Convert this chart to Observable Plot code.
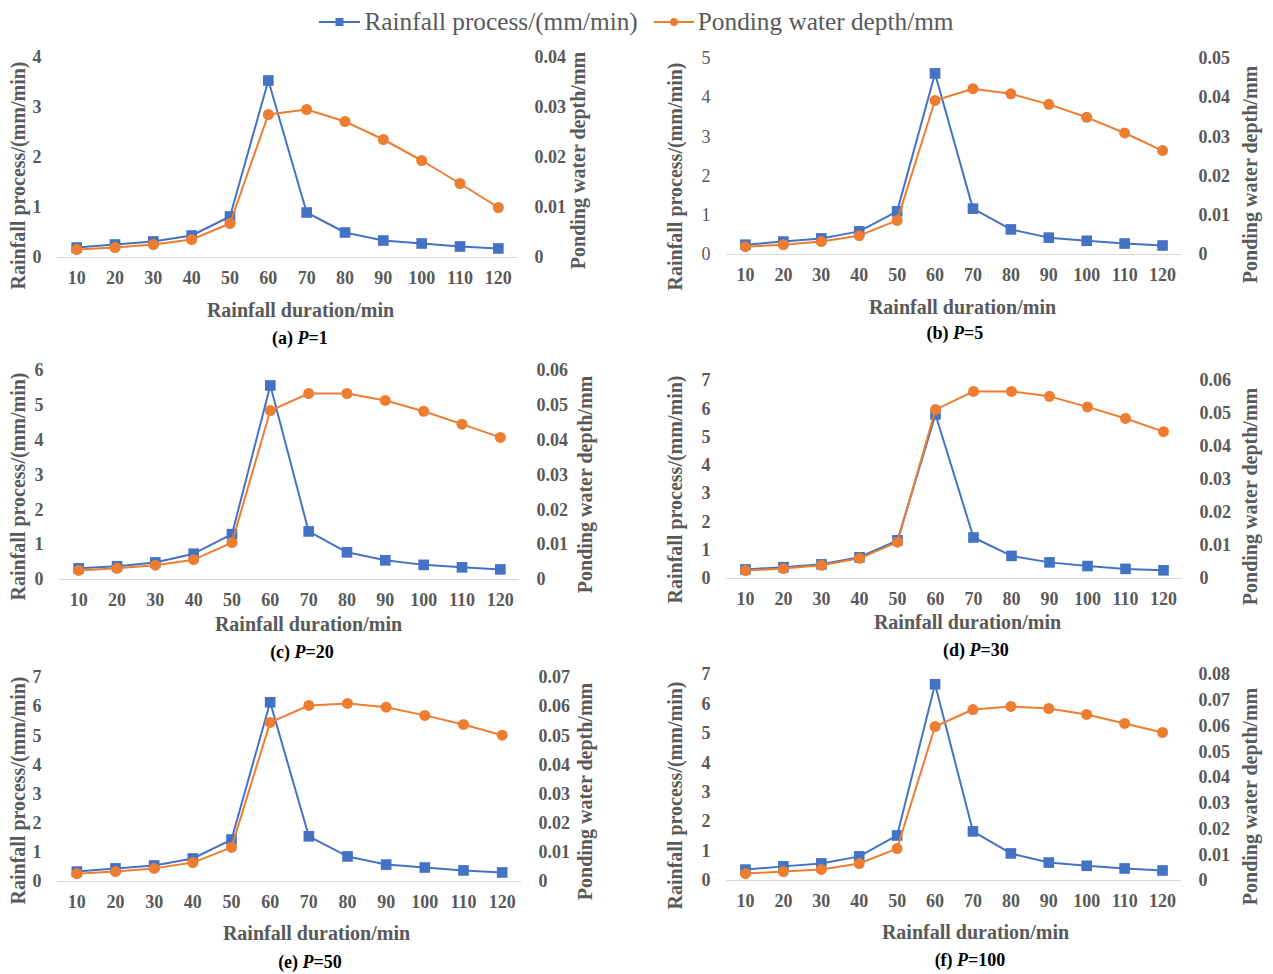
<!DOCTYPE html>
<html><head><meta charset="utf-8">
<script src="https://cdn.jsdelivr.net/npm/d3@7"></script>
<script src="https://cdn.jsdelivr.net/npm/@observablehq/plot@0.6"></script>
<style>
body{margin:0;background:#fff;}
#page{position:relative;width:1273px;height:974px;font-family:"Liberation Serif","Times New Roman",serif;color:#595959;overflow:hidden;background:#fff}
.cell{position:absolute}
.cell svg{position:absolute;left:0;top:0;overflow:visible}
.cap{position:absolute;transform:translate(-50%,-50%);font-weight:bold;font-size:18px;color:#000;white-space:nowrap;line-height:1}
#legend{position:absolute;top:9px;left:0;width:1273px;display:flex;justify-content:center;align-items:center;font-size:25.3px;line-height:1;white-space:nowrap}
#legend .item{display:flex;align-items:center}
#legend svg{margin-right:4px}
</style></head>
<body><div id="page"><div id="legend"></div></div>
<script>
const durations = [10, 20, 30, 40, 50, 60, 70, 80, 90, 100, 110, 120];
const panelLetters = ["a", "b", "c", "d", "e", "f"];
const returnPeriods = ["1", "5", "20", "30", "50", "100"];
const rainMax = [4, 5, 6, 7, 7, 7];
const pondMax = [0.04, 0.05, 0.06, 0.06, 0.07, 0.08];

const rainA = [0.20, 0.26, 0.32, 0.44, 0.82, 3.54, 0.90, 0.50, 0.34, 0.28, 0.22, 0.18];
const rainB = [0.25, 0.33, 0.41, 0.59, 1.10, 4.62, 1.17, 0.64, 0.43, 0.35, 0.28, 0.23];
const rainC = [0.32, 0.38, 0.49, 0.74, 1.30, 5.57, 1.38, 0.78, 0.55, 0.42, 0.35, 0.29];
const rainD = [0.32, 0.40, 0.50, 0.75, 1.35, 5.80, 1.45, 0.80, 0.57, 0.44, 0.34, 0.29];
const rainE = [0.34, 0.45, 0.55, 0.79, 1.44, 6.15, 1.55, 0.86, 0.58, 0.48, 0.38, 0.31];
const rainF = [0.37, 0.48, 0.58, 0.82, 1.53, 6.67, 1.67, 0.92, 0.61, 0.50, 0.41, 0.34];

const pondA = [0.0016, 0.0020, 0.0026, 0.0036, 0.0068, 0.0286, 0.0296, 0.0272, 0.0236, 0.0194, 0.0148, 0.0100];
const pondB = [0.0020, 0.0025, 0.0033, 0.0048, 0.0087, 0.0393, 0.0423, 0.0410, 0.0383, 0.0350, 0.0310, 0.0265];
const pondC = [0.0026, 0.0032, 0.0041, 0.0057, 0.0106, 0.0485, 0.0534, 0.0534, 0.0514, 0.0483, 0.0446, 0.0408];
const pondD = [0.0024, 0.0030, 0.0040, 0.0061, 0.0110, 0.0512, 0.0567, 0.0567, 0.0552, 0.0520, 0.0485, 0.0445];
const pondE = [0.0027, 0.0034, 0.0045, 0.0065, 0.0117, 0.0546, 0.0604, 0.0611, 0.0598, 0.0570, 0.0539, 0.0502];
const pondF = [0.0027, 0.0035, 0.0043, 0.0066, 0.0124, 0.0598, 0.0664, 0.0676, 0.0668, 0.0645, 0.0610, 0.0575];

const rainSeries = [rainA, rainB, rainC, rainD, rainE, rainF];
const pondSeries = [pondA, pondB, pondC, pondD, pondE, pondF];

const rainName = "Rainfall process/(mm/min)";
const pondName = "Ponding water depth/mm";
const xName = "Rainfall duration/min";

// layout (page pixels): cell box, frame edges, title centres
const layout = [
  {cell:[0,40,636,310],   fl:57,  fr:517,  top:57,  base:257, lt:[18,175],  rt:[578,160],  xt:[300,310], cap:[300,338], leftBold:true},
  {cell:[636,40,637,310], fl:726, fr:1181, top:58,  base:254, lt:[675,176], rt:[1250,174], xt:[962,307], cap:[955,333], leftBold:false},
  {cell:[0,350,636,314],  fl:59,  fr:519,  top:370, base:579, lt:[18,486],  rt:[585,484],  xt:[308,624], cap:[302,652], leftBold:true},
  {cell:[636,350,637,314],fl:726, fr:1182, top:380, base:578, lt:[675,489], rt:[1250,496], xt:[967,622], cap:[976,650], leftBold:true},
  {cell:[0,664,636,310],  fl:57,  fr:521,  top:677, base:881, lt:[18,790],  rt:[585,791],  xt:[316,933], cap:[310,962], leftBold:true},
  {cell:[636,664,637,310],fl:726, fr:1181, top:674, base:880, lt:[675,795], rt:[1250,796], xt:[975,932], cap:[970,960], leftBold:true}
];

const BLUE = "#4472C4", ORANGE = "#ED7D31", GREY = "#595959";
const FONT = "'Liberation Serif','Times New Roman',serif";
const page = document.getElementById("page");

// legend
const legend = document.getElementById("legend");
legend.innerHTML = `
<div class="item"><svg width="41" height="16"><line x1="0" y1="8" x2="41" y2="8" stroke="${BLUE}" stroke-width="2"/><rect x="16.5" y="4" width="8" height="8" fill="${BLUE}"/></svg><span>${rainName}</span></div>
<div class="item" style="margin-left:16px"><svg width="40" height="16"><line x1="0" y1="8" x2="40" y2="8" stroke="${ORANGE}" stroke-width="2"/><circle cx="20" cy="8" r="4" fill="${ORANGE}"/></svg><span>${pondName}</span></div>`;

layout.forEach((L, i) => {
  const [cx, cy, cw, ch] = L.cell;
  const mL = L.fl - cx, mR = cx + cw - L.fr, mT = L.top - cy, mB = cy + ch - L.base;
  const midY = (L.top + L.base) / 2, midX = (L.fl + L.fr) / 2;
  const rows = durations.map((t, j) => ({t, rain: rainSeries[i][j], pond: pondSeries[i][j]}));
  const common = {
    width: cw, height: ch, marginLeft: mL, marginRight: mR, marginTop: mT, marginBottom: mB,
    style: {background: "transparent", fontFamily: FONT, fontSize: "18px", color: GREY, overflow: "visible"}
  };
  const div = document.createElement("div");
  div.className = "cell";
  div.style.left = cx + "px"; div.style.top = cy + "px";
  div.style.width = cw + "px"; div.style.height = ch + "px";

  const rainTicks = d3.range(0, rainMax[i] + 1);
  const pondTicks = d3.range(0, Math.round(pondMax[i] * 100) + 1).map(k => k / 100);
  const titleStyle = {text: d => d, textAnchor: "middle", lineAnchor: "middle", fontWeight: "bold", fontSize: 20, fill: GREY};

  const p1 = Plot.plot({
    ...common,
    x: {domain: [5, 125], axis: null},
    y: {domain: [0, rainMax[i]], axis: null},
    marks: [
      Plot.ruleY([0], {stroke: "#d9d9d9", strokeWidth: 1}),
      Plot.axisX(durations, {tickSize: 0, tickPadding: 14, fontWeight: "bold", fontSize: 18, fill: GREY, label: null}),
      Plot.axisY(rainTicks, {anchor: "left", tickSize: 0, tickPadding: 16, fontWeight: L.leftBold ? "bold" : "normal", fontSize: 18, fill: GREY, label: null, tickFormat: d => String(d)}),
      Plot.line(rows, {x: "t", y: "rain", stroke: BLUE, strokeWidth: 2}),
      Plot.dot(rows, {x: "t", y: "rain", symbol: "square", fill: BLUE, r: 6}),
      Plot.text([xName], {...titleStyle, frameAnchor: "bottom", dx: L.xt[0] - midX, dy: L.xt[1] - L.base}),
      Plot.text([rainName], {...titleStyle, frameAnchor: "left", rotate: -90, dx: L.lt[0] - L.fl, dy: L.lt[1] - midY})
    ]
  });
  const p2 = Plot.plot({
    ...common,
    x: {domain: [5, 125], axis: null},
    y: {domain: [0, pondMax[i]], axis: null},
    marks: [
      Plot.axisY(pondTicks, {anchor: "right", tickSize: 0, tickPadding: 17, fontWeight: "bold", fontSize: 18, fill: GREY, label: null, tickFormat: d => d === 0 ? "0" : d.toFixed(2)}),
      Plot.line(rows, {x: "t", y: "pond", stroke: ORANGE, strokeWidth: 2}),
      Plot.dot(rows, {x: "t", y: "pond", symbol: "circle", fill: ORANGE, r: 5.5}),
      Plot.text([pondName], {...titleStyle, frameAnchor: "right", rotate: -90, dx: L.rt[0] - L.fr, dy: L.rt[1] - midY})
    ]
  });
  p2.style.pointerEvents = "none";
  div.appendChild(p1);
  div.appendChild(p2);
  page.appendChild(div);

  const cap = document.createElement("div");
  cap.className = "cap";
  cap.style.left = L.cap[0] + "px"; cap.style.top = L.cap[1] + "px";
  cap.innerHTML = `(${panelLetters[i]}) <i>P</i>=${returnPeriods[i]}`;
  page.appendChild(cap);
});
</script>
</body></html>
